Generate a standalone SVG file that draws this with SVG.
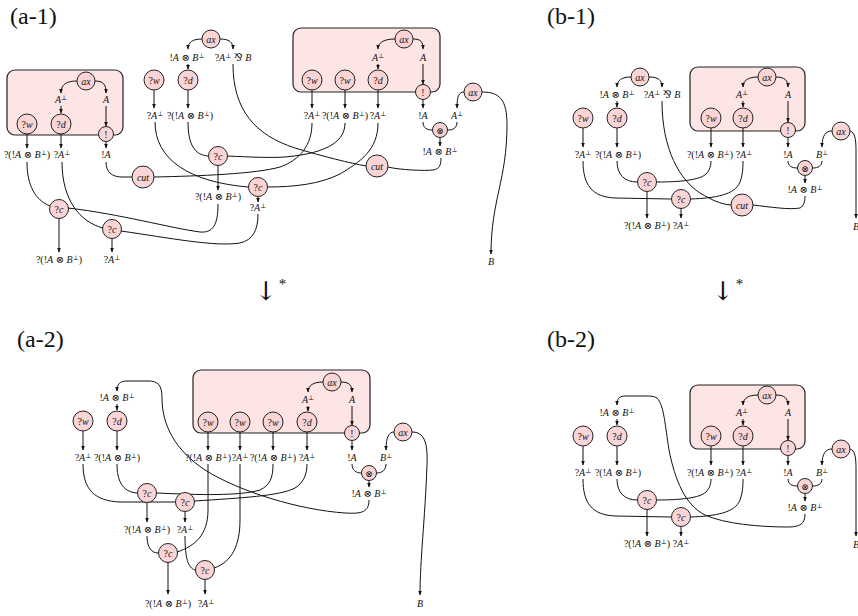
<svg xmlns="http://www.w3.org/2000/svg" width="858" height="616" viewBox="0 0 858 616">
<defs>
<marker id="ah" viewBox="0 0 10 10" refX="9" refY="5" markerWidth="5" markerHeight="5" markerUnits="userSpaceOnUse" orient="auto">
<path d="M0,1 L10,5 L0,9 z" fill="#111"/>
</marker>
<style>
.w{fill:none;stroke:#111;stroke-width:1}
.a{marker-end:url(#ah)}
.n{fill:#fbd5d5;stroke:#222;stroke-width:1}
.box{fill:#fde5e5;stroke:#222;stroke-width:1.2}
text{font-family:"Liberation Serif","DejaVu Serif","DejaVu Sans",serif;fill:#111}
.l{font-size:10px;text-anchor:middle}
.t{font-size:10px;text-anchor:middle}
.i{font-style:italic}
.p{font-size:6.5px;baseline-shift:super}
.h{font-size:24px}
.arr{font-size:26px;font-family:"DejaVu Serif","Liberation Serif",serif}
.st{font-size:15px;font-family:"Liberation Serif",serif}
</style>
</defs>
<rect width="858" height="616" fill="#fff"/>

<g id="titles">
<text class="h" x="10" y="24">(a-1)</text>
<text class="h" x="547" y="24">(b-1)</text>
<text class="h" x="17" y="347">(a-2)</text>
<text class="h" x="547" y="347">(b-2)</text>
<text class="arr" x="255" y="300">↓<tspan class="st" dx="2" dy="-11">*</tspan></text>
<text class="arr" x="712" y="300">↓<tspan class="st" dx="2" dy="-11">*</tspan></text>
</g>

<g id="boxes">
<rect id="a1-box1" class="box" x="7" y="70" width="116" height="65" rx="8"/>
<rect id="a1-box2" class="box" x="293" y="28" width="147" height="64" rx="8"/>
<rect id="a2-box" class="box" x="193" y="370" width="177" height="63" rx="8"/>
<rect id="b1-box" class="box" x="690" y="67" width="115" height="64" rx="8"/>
<rect id="b2-box" class="box" x="690" y="385" width="115" height="64" rx="8"/>
</g>

<g id="connectors">
<!-- a-1 -->
<path class="w a" d="M77,81 C67,81 61,84 61,93"/>
<path class="w a" d="M95,81 C103,81 106,84 106,93"/>
<path class="w a" d="M61,106 L61,113"/>
<path class="w a" d="M106,106 L106,126"/>
<path class="w a" d="M27,134 L27,148"/>
<path class="w a" d="M61,134 L61,148"/>
<path class="w a" d="M106,142 L106,148"/>
<path class="w a" d="M202,39 C193,39 188,42 188,49"/>
<path class="w a" d="M220,39 C229,39 233,42 233,49"/>
<path class="w a" d="M188,64 L188,69"/>
<path class="w a" d="M154,90 L154,108"/>
<path class="w a" d="M188,90 L188,108"/>
<path class="w a" d="M395,39 C385,39 378,42 378,49"/>
<path class="w a" d="M413,39 C421,39 423,42 423,49"/>
<path class="w a" d="M378,64 L378,69"/>
<path class="w a" d="M423,64 L423,84"/>
<path class="w a" d="M312,90 L312,108"/>
<path class="w a" d="M345,90 L345,108"/>
<path class="w a" d="M378,90 L378,108"/>
<path class="w a" d="M423,100 L423,108"/>
<path class="w a" d="M464,92 C459,92 457,96 457,108"/>
<path class="w a" d="M482,92 C500,92 507,100 507,125 C507,180 491,200 491,254"/>
<path class="w" d="M423,122 C423,128 427,130 432,130"/>
<path class="w" d="M457,122 C457,128 453,130 448,130"/>
<path class="w a" d="M440,138 L440,146"/>
<path class="w" d="M388,167 C400,170 425,171 433,170 C440,169 441,164 441,158"/>
<path class="w" d="M233,64 C233,110 255,135 295,148 C325,157 350,163 366,166"/>
<path class="w" d="M106,162 C106,172 112,177 122,177 L132,177"/>
<path class="w" d="M154,177 C200,176 255,174 280,167 C300,160 312,145 312,123"/>
<path class="w" d="M227,156 C250,157 270,158 285,157 C330,153 345,140 345,123"/>
<path class="w" d="M267,187 C295,187 320,184 340,174 C360,162 378,150 378,123"/>
<path class="w" d="M155,122 C155,160 190,182 248,187"/>
<path class="w" d="M188,122 C188,145 195,155 208,156"/>
<path class="w a" d="M218,166 L218,190"/>
<path class="w a" d="M258,197 L258,202"/>
<path class="w" d="M27,162 C27,185 35,200 50,206"/>
<path class="w" d="M62,162 C62,200 80,222 103,228"/>
<path class="w" d="M68,208 C120,214 170,228 200,232 C213,233 218,225 218,204"/>
<path class="w" d="M121,231 C170,238 215,247 240,243 C253,240 258,230 258,214"/>
<path class="w a" d="M59,219 L59,252"/>
<path class="w a" d="M112,239 L112,252"/>
<!-- a-2 -->
<path class="w a" d="M323,382 C314,382 308,385 308,392"/>
<path class="w a" d="M341,382 C349,382 352,385 352,392"/>
<path class="w a" d="M308,406 L308,411"/>
<path class="w a" d="M352,406 L352,425"/>
<path class="w a" d="M208,432 L208,450"/>
<path class="w a" d="M240,432 L240,450"/>
<path class="w a" d="M273,432 L273,450"/>
<path class="w a" d="M307,432 L307,450"/>
<path class="w a" d="M352,441 L352,450"/>
<path class="w a" d="M394,432 C389,432 386,437 386,450"/>
<path class="w a" d="M412,432 C424,432 428,442 427,465 C425,520 420,560 420,595"/>
<path class="w" d="M352,464 C352,470 356,473 361,473"/>
<path class="w" d="M386,464 C386,470 382,473 377,473"/>
<path class="w a" d="M369,481 L369,487"/>
<path class="w a" d="M369,500 C369,512 362,514 345,513 C300,510 240,492 205,470 C175,450 162,425 162,398 C162,385 158,381 148,381 L127,381 C120,381 117,384 117,391"/>
<path class="w a" d="M117,404 L117,410"/>
<path class="w a" d="M83,431 L83,450"/>
<path class="w a" d="M117,431 L117,450"/>
<path class="w" d="M83,464 C83,490 95,501 120,502 L175,502"/>
<path class="w" d="M117,464 C117,480 122,492 137,493"/>
<path class="w" d="M157,493 C200,495 240,496 260,490 C270,485 273,478 273,464"/>
<path class="w" d="M195,501 C240,498 280,496 295,488 C303,483 307,475 307,464"/>
<path class="w a" d="M147,503 L147,522"/>
<path class="w a" d="M185,512 L185,522"/>
<path class="w" d="M147,536 C147,548 152,553 158,553"/>
<path class="w" d="M185,536 C185,558 188,568 195,570"/>
<path class="w" d="M177,552 C195,546 208,535 208,510 L208,464"/>
<path class="w" d="M214,568 C232,562 240,545 240,520 L240,464"/>
<path class="w a" d="M168,563 L168,594"/>
<path class="w a" d="M205,580 L205,594"/>
<!-- b-1 -->
<path class="w a" d="M631,77 C622,77 617,80 617,87"/>
<path class="w a" d="M649,77 C658,77 662,80 662,87"/>
<path class="w a" d="M617,101 L617,107"/>
<path class="w a" d="M583,128 L583,147"/>
<path class="w a" d="M617,128 L617,147"/>
<path class="w a" d="M758,77 C749,77 743,80 743,87"/>
<path class="w a" d="M776,77 C784,77 788,80 788,87"/>
<path class="w a" d="M743,101 L743,107"/>
<path class="w a" d="M788,101 L788,122"/>
<path class="w a" d="M711,128 L711,147"/>
<path class="w a" d="M743,128 L743,147"/>
<path class="w a" d="M788,138 L788,147"/>
<path class="w a" d="M832,131 C826,131 822,135 822,147"/>
<path class="w a" d="M850,131 C855,132 856,140 856,150 L856,218"/>
<path class="w" d="M788,161 C788,166 792,168 797,168"/>
<path class="w" d="M822,161 C822,166 818,168 813,168"/>
<path class="w a" d="M805,176 L805,183"/>
<path class="w" d="M753,205 C770,207 790,210 800,208 C804,206 805,201 805,196"/>
<path class="w" d="M662,101 C662,150 680,180 700,193 C712,200 720,204 731,205"/>
<path class="w" d="M583,161 C583,185 592,197 615,198 L671,199"/>
<path class="w" d="M617,161 C617,175 625,182 637,182"/>
<path class="w" d="M657,182 C680,182 700,180 706,174 C710,170 711,165 711,161"/>
<path class="w" d="M691,199 C715,198 735,195 740,182 C743,174 743,166 743,161"/>
<path class="w a" d="M647,192 L647,218"/>
<path class="w a" d="M681,209 L681,218"/>
<!-- b-2 -->
<path class="w a" d="M617,419 L617,425"/>
<path class="w a" d="M583,446 L583,465"/>
<path class="w a" d="M617,446 L617,465"/>
<path class="w a" d="M758,395 C749,395 743,398 743,405"/>
<path class="w a" d="M776,395 C784,395 788,398 788,405"/>
<path class="w a" d="M743,419 L743,425"/>
<path class="w a" d="M788,419 L788,440"/>
<path class="w a" d="M711,446 L711,465"/>
<path class="w a" d="M743,446 L743,465"/>
<path class="w a" d="M788,456 L788,465"/>
<path class="w a" d="M832,449 C826,449 822,453 822,465"/>
<path class="w a" d="M850,449 C855,450 856,458 856,468 L856,536"/>
<path class="w" d="M788,479 C788,484 792,486 797,486"/>
<path class="w" d="M822,479 C822,484 818,486 813,486"/>
<path class="w a" d="M805,494 L805,501"/>
<path class="w a" d="M805,514 C805,524 800,527 788,527 C760,527 725,524 705,515 C685,505 675,480 669,450 C665,425 664,405 657,398 C654,396 650,396 645,396 L625,396 C619,396 617,399 617,405"/>
<path class="w" d="M583,479 C583,503 592,515 615,516 L671,517"/>
<path class="w" d="M617,479 C617,493 625,500 637,500"/>
<path class="w" d="M657,500 C680,500 700,498 706,492 C710,488 711,483 711,479"/>
<path class="w" d="M691,517 C715,516 735,513 740,500 C743,492 743,484 743,479"/>
<path class="w a" d="M647,510 L647,536"/>
<path class="w a" d="M681,527 L681,536"/>
</g>

<!-- nodes a-1 -->
<g id="a1-ax1"><circle class="n" cx="86" cy="81" r="9"/><text class="t i" x="86" y="84.5">ax</text></g>
<g id="a1-w1"><circle class="n" cx="27" cy="124" r="10"/><text class="t" x="27" y="127.5">?<tspan class="i">w</tspan></text></g>
<g id="a1-d1"><circle class="n" cx="61" cy="124" r="10"/><text class="t" x="61" y="127.5">?<tspan class="i">d</tspan></text></g>
<g id="a1-bang1"><circle class="n" cx="106" cy="134" r="7.5"/><text class="t" x="106" y="137.5">!</text></g>
<g id="a1-ax2"><circle class="n" cx="211" cy="39" r="9"/><text class="t i" x="211" y="42.5">ax</text></g>
<g id="a1-w2"><circle class="n" cx="154" cy="80" r="10"/><text class="t" x="154" y="83.5">?<tspan class="i">w</tspan></text></g>
<g id="a1-d2"><circle class="n" cx="188" cy="80" r="10"/><text class="t" x="188" y="83.5">?<tspan class="i">d</tspan></text></g>
<g id="a1-ax3"><circle class="n" cx="404" cy="39" r="9"/><text class="t i" x="404" y="42.5">ax</text></g>
<g id="a1-w3"><circle class="n" cx="312" cy="80" r="10"/><text class="t" x="312" y="83.5">?<tspan class="i">w</tspan></text></g>
<g id="a1-w4"><circle class="n" cx="345" cy="80" r="10"/><text class="t" x="345" y="83.5">?<tspan class="i">w</tspan></text></g>
<g id="a1-d3"><circle class="n" cx="378" cy="80" r="10"/><text class="t" x="378" y="83.5">?<tspan class="i">d</tspan></text></g>
<g id="a1-bang2"><circle class="n" cx="423" cy="92" r="7.5"/><text class="t" x="423" y="95.5">!</text></g>
<g id="a1-ax4"><circle class="n" cx="473" cy="92" r="9"/><text class="t i" x="473" y="95.5">ax</text></g>
<g id="a1-tens"><circle class="n" cx="440" cy="130" r="7.5"/><text class="t" x="440" y="133.5" style="font-size:9px">⊗</text></g>
<g id="a1-cut1"><circle class="n" cx="143" cy="177" r="11"/><text class="t i" x="143" y="180.5">cut</text></g>
<g id="a1-cut2"><circle class="n" cx="377" cy="166" r="11"/><text class="t i" x="377" y="169.5">cut</text></g>
<g id="a1-c1"><circle class="n" cx="218" cy="156" r="9.5"/><text class="t" x="218" y="159.5">?<tspan class="i">c</tspan></text></g>
<g id="a1-c2"><circle class="n" cx="258" cy="187" r="9.5"/><text class="t" x="258" y="190.5">?<tspan class="i">c</tspan></text></g>
<g id="a1-c3"><circle class="n" cx="59" cy="209" r="9.5"/><text class="t" x="59" y="212.5">?<tspan class="i">c</tspan></text></g>
<g id="a1-c4"><circle class="n" cx="112" cy="229" r="9.5"/><text class="t" x="112" y="232.5">?<tspan class="i">c</tspan></text></g>

<!-- nodes a-2 -->
<g id="a2-ax1"><circle class="n" cx="332" cy="382" r="9"/><text class="t i" x="332" y="385.5">ax</text></g>
<g id="a2-w1"><circle class="n" cx="208" cy="422" r="10"/><text class="t" x="208" y="425.5">?<tspan class="i">w</tspan></text></g>
<g id="a2-w2"><circle class="n" cx="240" cy="422" r="10"/><text class="t" x="240" y="425.5">?<tspan class="i">w</tspan></text></g>
<g id="a2-w3"><circle class="n" cx="273" cy="422" r="10"/><text class="t" x="273" y="425.5">?<tspan class="i">w</tspan></text></g>
<g id="a2-d1"><circle class="n" cx="307" cy="422" r="10"/><text class="t" x="307" y="425.5">?<tspan class="i">d</tspan></text></g>
<g id="a2-bang"><circle class="n" cx="352" cy="433" r="7.5"/><text class="t" x="352" y="436.5">!</text></g>
<g id="a2-ax2"><circle class="n" cx="403" cy="432" r="9"/><text class="t i" x="403" y="435.5">ax</text></g>
<g id="a2-tens"><circle class="n" cx="369" cy="473" r="7.5"/><text class="t" x="369" y="476.5" style="font-size:9px">⊗</text></g>
<g id="a2-w4"><circle class="n" cx="83" cy="421" r="10"/><text class="t" x="83" y="424.5">?<tspan class="i">w</tspan></text></g>
<g id="a2-d2"><circle class="n" cx="117" cy="421" r="10"/><text class="t" x="117" y="424.5">?<tspan class="i">d</tspan></text></g>
<g id="a2-c1"><circle class="n" cx="147" cy="493" r="9.5"/><text class="t" x="147" y="496.5">?<tspan class="i">c</tspan></text></g>
<g id="a2-c2"><circle class="n" cx="185" cy="502" r="9.5"/><text class="t" x="185" y="505.5">?<tspan class="i">c</tspan></text></g>
<g id="a2-c3"><circle class="n" cx="168" cy="553" r="9.5"/><text class="t" x="168" y="556.5">?<tspan class="i">c</tspan></text></g>
<g id="a2-c4"><circle class="n" cx="205" cy="570" r="9.5"/><text class="t" x="205" y="573.5">?<tspan class="i">c</tspan></text></g>

<!-- nodes b-1 -->
<g id="b1-ax1"><circle class="n" cx="640" cy="77" r="9"/><text class="t i" x="640" y="80.5">ax</text></g>
<g id="b1-w1"><circle class="n" cx="583" cy="118" r="10"/><text class="t" x="583" y="121.5">?<tspan class="i">w</tspan></text></g>
<g id="b1-d1"><circle class="n" cx="617" cy="118" r="10"/><text class="t" x="617" y="121.5">?<tspan class="i">d</tspan></text></g>
<g id="b1-c1"><circle class="n" cx="647" cy="182" r="9.5"/><text class="t" x="647" y="185.5">?<tspan class="i">c</tspan></text></g>
<g id="b1-c2"><circle class="n" cx="681" cy="199" r="9.5"/><text class="t" x="681" y="202.5">?<tspan class="i">c</tspan></text></g>
<g id="b1-ax2"><circle class="n" cx="767" cy="77" r="9"/><text class="t i" x="767" y="80.5">ax</text></g>
<g id="b1-w2"><circle class="n" cx="711" cy="118" r="10"/><text class="t" x="711" y="121.5">?<tspan class="i">w</tspan></text></g>
<g id="b1-d2"><circle class="n" cx="743" cy="118" r="10"/><text class="t" x="743" y="121.5">?<tspan class="i">d</tspan></text></g>
<g id="b1-bang"><circle class="n" cx="788" cy="130" r="7.5"/><text class="t" x="788" y="133.5">!</text></g>
<g id="b1-tens"><circle class="n" cx="805" cy="168" r="7.5"/><text class="t" x="805" y="171.5" style="font-size:9px">⊗</text></g>
<g id="b1-ax3"><circle class="n" cx="841" cy="131" r="9"/><text class="t i" x="841" y="134.5">ax</text></g>
<g id="b1-cut"><circle class="n" cx="742" cy="205" r="11"/><text class="t i" x="742" y="208.5">cut</text></g>

<!-- nodes b-2 -->
<g id="b2-w1"><circle class="n" cx="583" cy="436" r="10"/><text class="t" x="583" y="439.5">?<tspan class="i">w</tspan></text></g>
<g id="b2-d1"><circle class="n" cx="617" cy="436" r="10"/><text class="t" x="617" y="439.5">?<tspan class="i">d</tspan></text></g>
<g id="b2-c1"><circle class="n" cx="647" cy="500" r="9.5"/><text class="t" x="647" y="503.5">?<tspan class="i">c</tspan></text></g>
<g id="b2-c2"><circle class="n" cx="681" cy="517" r="9.5"/><text class="t" x="681" y="520.5">?<tspan class="i">c</tspan></text></g>
<g id="b2-ax1"><circle class="n" cx="767" cy="395" r="9"/><text class="t i" x="767" y="398.5">ax</text></g>
<g id="b2-w2"><circle class="n" cx="711" cy="436" r="10"/><text class="t" x="711" y="439.5">?<tspan class="i">w</tspan></text></g>
<g id="b2-d2"><circle class="n" cx="743" cy="436" r="10"/><text class="t" x="743" y="439.5">?<tspan class="i">d</tspan></text></g>
<g id="b2-bang"><circle class="n" cx="788" cy="448" r="7.5"/><text class="t" x="788" y="451.5">!</text></g>
<g id="b2-tens"><circle class="n" cx="805" cy="486" r="7.5"/><text class="t" x="805" y="489.5" style="font-size:9px">⊗</text></g>
<g id="b2-ax2"><circle class="n" cx="841" cy="449" r="9"/><text class="t i" x="841" y="452.5">ax</text></g>

<g id="labels">
<!-- a-1 -->
<text class="l" x="61" y="103"><tspan class="i">A</tspan><tspan class="p">⊥</tspan></text>
<text class="l i" x="106" y="103">A</text>
<text class="l" x="27" y="158">?(!<tspan class="i">A</tspan> ⊗ <tspan class="i">B</tspan><tspan class="p">⊥</tspan>)</text>
<text class="l" x="62" y="158">?<tspan class="i">A</tspan><tspan class="p">⊥</tspan></text>
<text class="l" x="106" y="158">!<tspan class="i">A</tspan></text>
<text class="l" x="187" y="61">!<tspan class="i">A</tspan> ⊗ <tspan class="i">B</tspan><tspan class="p">⊥</tspan></text>
<text class="l" x="233" y="61">?<tspan class="i">A</tspan><tspan class="p">⊥</tspan> ⅋ <tspan class="i">B</tspan></text>
<text class="l" x="155" y="119">?<tspan class="i">A</tspan><tspan class="p">⊥</tspan></text>
<text class="l" x="190" y="119">?(!<tspan class="i">A</tspan> ⊗ <tspan class="i">B</tspan><tspan class="p">⊥</tspan>)</text>
<text class="l" x="378" y="61"><tspan class="i">A</tspan><tspan class="p">⊥</tspan></text>
<text class="l i" x="423" y="61">A</text>
<text class="l" x="312" y="119">?<tspan class="i">A</tspan><tspan class="p">⊥</tspan></text>
<text class="l" x="345" y="119">?(!<tspan class="i">A</tspan> ⊗ <tspan class="i">B</tspan><tspan class="p">⊥</tspan>)</text>
<text class="l" x="378" y="119">?<tspan class="i">A</tspan><tspan class="p">⊥</tspan></text>
<text class="l" x="423" y="119">!<tspan class="i">A</tspan></text>
<text class="l" x="457" y="119"><tspan class="i">A</tspan><tspan class="p">⊥</tspan></text>
<text class="l" x="440" y="155">!<tspan class="i">A</tspan> ⊗ <tspan class="i">B</tspan><tspan class="p">⊥</tspan></text>
<text class="l" x="218" y="200">?(!<tspan class="i">A</tspan> ⊗ <tspan class="i">B</tspan><tspan class="p">⊥</tspan>)</text>
<text class="l" x="258" y="211">?<tspan class="i">A</tspan><tspan class="p">⊥</tspan></text>
<text class="l" x="59" y="263">?(!<tspan class="i">A</tspan> ⊗ <tspan class="i">B</tspan><tspan class="p">⊥</tspan>)</text>
<text class="l" x="112" y="263">?<tspan class="i">A</tspan><tspan class="p">⊥</tspan></text>
<text class="l i" x="491" y="265">B</text>
<!-- a-2 -->
<text class="l" x="308" y="403"><tspan class="i">A</tspan><tspan class="p">⊥</tspan></text>
<text class="l i" x="352" y="403">A</text>
<text class="l" x="208" y="461">?(!<tspan class="i">A</tspan> ⊗ <tspan class="i">B</tspan><tspan class="p">⊥</tspan>)</text>
<text class="l" x="240" y="461">?<tspan class="i">A</tspan><tspan class="p">⊥</tspan></text>
<text class="l" x="273" y="461">?(!<tspan class="i">A</tspan> ⊗ <tspan class="i">B</tspan><tspan class="p">⊥</tspan>)</text>
<text class="l" x="307" y="461">?<tspan class="i">A</tspan><tspan class="p">⊥</tspan></text>
<text class="l" x="352" y="461">!<tspan class="i">A</tspan></text>
<text class="l" x="386" y="461"><tspan class="i">B</tspan><tspan class="p">⊥</tspan></text>
<text class="l" x="369" y="497">!<tspan class="i">A</tspan> ⊗ <tspan class="i">B</tspan><tspan class="p">⊥</tspan></text>
<text class="l i" x="420" y="607">B</text>
<text class="l" x="117" y="401">!<tspan class="i">A</tspan> ⊗ <tspan class="i">B</tspan><tspan class="p">⊥</tspan></text>
<text class="l" x="83" y="461">?<tspan class="i">A</tspan><tspan class="p">⊥</tspan></text>
<text class="l" x="117" y="461">?(!<tspan class="i">A</tspan> ⊗ <tspan class="i">B</tspan><tspan class="p">⊥</tspan>)</text>
<text class="l" x="147" y="533">?(!<tspan class="i">A</tspan> ⊗ <tspan class="i">B</tspan><tspan class="p">⊥</tspan>)</text>
<text class="l" x="185" y="533">?<tspan class="i">A</tspan><tspan class="p">⊥</tspan></text>
<text class="l" x="168" y="607">?(!<tspan class="i">A</tspan> ⊗ <tspan class="i">B</tspan><tspan class="p">⊥</tspan>)</text>
<text class="l" x="206" y="607">?<tspan class="i">A</tspan><tspan class="p">⊥</tspan></text>
<!-- b-1 -->
<text class="l" x="617" y="98">!<tspan class="i">A</tspan> ⊗ <tspan class="i">B</tspan><tspan class="p">⊥</tspan></text>
<text class="l" x="662" y="98">?<tspan class="i">A</tspan><tspan class="p">⊥</tspan> ⅋ <tspan class="i">B</tspan></text>
<text class="l" x="583" y="158">?<tspan class="i">A</tspan><tspan class="p">⊥</tspan></text>
<text class="l" x="618" y="158">?(!<tspan class="i">A</tspan> ⊗ <tspan class="i">B</tspan><tspan class="p">⊥</tspan>)</text>
<text class="l" x="742" y="98"><tspan class="i">A</tspan><tspan class="p">⊥</tspan></text>
<text class="l i" x="788" y="98">A</text>
<text class="l" x="710" y="158">?(!<tspan class="i">A</tspan> ⊗ <tspan class="i">B</tspan><tspan class="p">⊥</tspan>)</text>
<text class="l" x="744" y="158">?<tspan class="i">A</tspan><tspan class="p">⊥</tspan></text>
<text class="l" x="788" y="158">!<tspan class="i">A</tspan></text>
<text class="l" x="822" y="158"><tspan class="i">B</tspan><tspan class="p">⊥</tspan></text>
<text class="l" x="805" y="193">!<tspan class="i">A</tspan> ⊗ <tspan class="i">B</tspan><tspan class="p">⊥</tspan></text>
<text class="l" x="647" y="229">?(!<tspan class="i">A</tspan> ⊗ <tspan class="i">B</tspan><tspan class="p">⊥</tspan>)</text>
<text class="l" x="681" y="229">?<tspan class="i">A</tspan><tspan class="p">⊥</tspan></text>
<text class="l i" x="856" y="230">B</text>
<!-- b-2 -->
<text class="l" x="617" y="416">!<tspan class="i">A</tspan> ⊗ <tspan class="i">B</tspan><tspan class="p">⊥</tspan></text>
<text class="l" x="583" y="476">?<tspan class="i">A</tspan><tspan class="p">⊥</tspan></text>
<text class="l" x="618" y="476">?(!<tspan class="i">A</tspan> ⊗ <tspan class="i">B</tspan><tspan class="p">⊥</tspan>)</text>
<text class="l" x="742" y="416"><tspan class="i">A</tspan><tspan class="p">⊥</tspan></text>
<text class="l i" x="788" y="416">A</text>
<text class="l" x="710" y="476">?(!<tspan class="i">A</tspan> ⊗ <tspan class="i">B</tspan><tspan class="p">⊥</tspan>)</text>
<text class="l" x="744" y="476">?<tspan class="i">A</tspan><tspan class="p">⊥</tspan></text>
<text class="l" x="788" y="476">!<tspan class="i">A</tspan></text>
<text class="l" x="822" y="476"><tspan class="i">B</tspan><tspan class="p">⊥</tspan></text>
<text class="l" x="805" y="511">!<tspan class="i">A</tspan> ⊗ <tspan class="i">B</tspan><tspan class="p">⊥</tspan></text>
<text class="l" x="647" y="547">?(!<tspan class="i">A</tspan> ⊗ <tspan class="i">B</tspan><tspan class="p">⊥</tspan>)</text>
<text class="l" x="681" y="547">?<tspan class="i">A</tspan><tspan class="p">⊥</tspan></text>
<text class="l i" x="856" y="548">B</text>
</g>
</svg>
